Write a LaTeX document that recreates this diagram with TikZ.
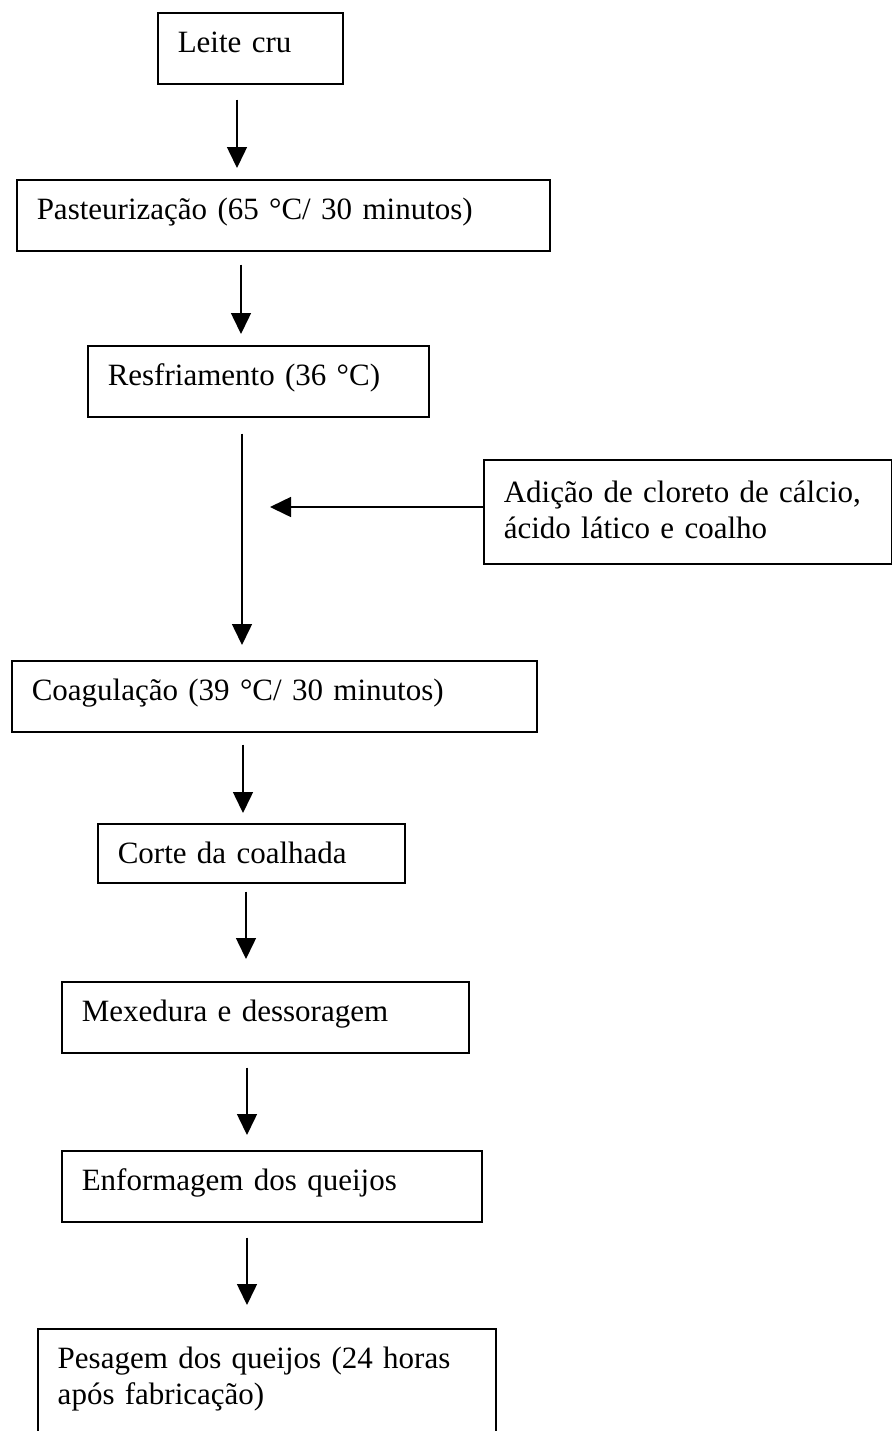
\documentclass[tikz,border=0pt]{standalone}
\usepackage{fontspec}
\setmainfont{Liberation Serif}
\usetikzlibrary{arrows.meta, positioning}

\begin{document}
\begin{tikzpicture}[
	x=0.5pt, y=-0.5pt,
	every node/.style={font=\fontsize{15.5}{18}\selectfont},
	etapa/.style={draw, rectangle, line width=0.75pt, anchor=north west, align=left, inner xsep=10pt, inner ysep=0pt, text height=20pt, text depth=15.5pt},
	arrow/.style={-{Triangle[width=10pt,length=10.5pt]}, line width=0.75pt}
	]
	\useasboundingbox (0,0) rectangle (892,1431);
	\clip (0,0) rectangle (892,1431);

	% Nodes
	\node (leite) [etapa, text width=72.5pt] at (157,12) {Leite cru};
	\node (past) [etapa, text width=246.5pt] at (16,179) {Pasteurização (65 °C/ 30 minutos)};
	\node (resf) [etapa, text width=150.5pt] at (87,345) {Resfriamento (36 °C)};
	\node (adic) [etapa, text width=184pt, text height=21.5pt, text depth=30.5pt] at (483,459) {Adição de cloreto de cálcio,\\ácido lático e coalho};
	\node (coag) [etapa, text width=242.5pt] at (11,660) {Coagulação (39 °C/ 30 minutos)};
	\node (corte) [etapa, text width=133.5pt, text depth=9.5pt] at (97,823) {Corte da coalhada};
	\node (mex) [etapa, text width=183.5pt] at (61,981) {Mexedura e dessoragem};
	\node (enf) [etapa, text width=190pt] at (61,1150) {Enformagem dos queijos};
	\node (pes) [etapa, text width=209pt, text depth=46.5pt] at (37,1328) {Pesagem dos queijos (24 horas\\após fabricação)};
	\coordinate (addpt) at (270,507);

	% Connections
	\draw [arrow, shorten <=7.5pt, shorten >=5.5pt] (leite.south -| 237,0) -- (past.north -| 237,0);
	\draw [arrow, shorten <=6.5pt, shorten >=5.5pt] (past.south -| 241,0) -- (resf.north -| 241,0);
	\draw [arrow, shorten <=8pt, shorten >=7.5pt] (resf.south -| 242,0) -- (coag.north -| 242,0);
	\draw [arrow] (adic.west |- addpt) -- (addpt);
	\draw [arrow, shorten <=6pt, shorten >=5pt] (coag.south -| 243,0) -- (corte.north -| 243,0);
	\draw [arrow, shorten <=4pt, shorten >=11pt] (corte.south -| 246,0) -- (mex.north -| 246,0);
	\draw [arrow, shorten <=7pt, shorten >=7.5pt] (mex.south -| 247,0) -- (enf.north -| 247,0);
	\draw [arrow, shorten <=7.5pt, shorten >=11.5pt] (enf.south -| 247,0) -- (pes.north -| 247,0);

\end{tikzpicture}
\end{document}
